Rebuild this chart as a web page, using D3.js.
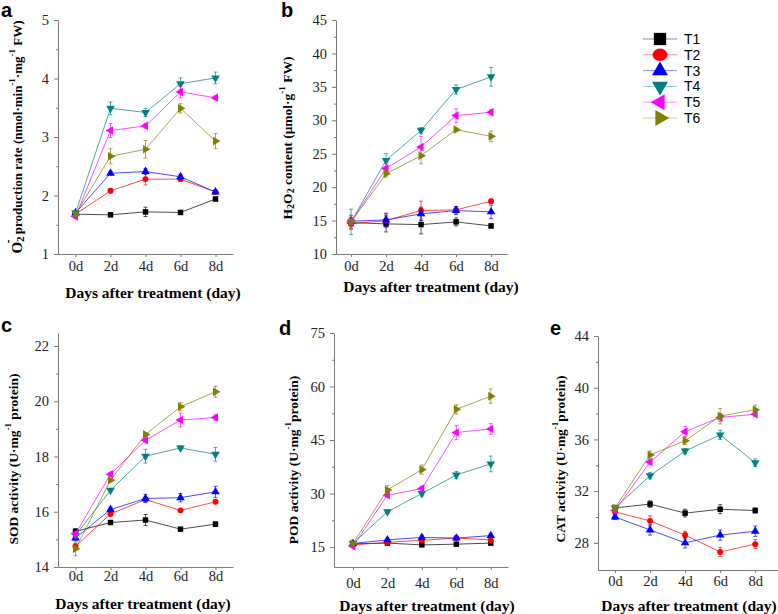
<!DOCTYPE html>
<html><head><meta charset="utf-8">
<script src="https://cdn.jsdelivr.net/npm/d3@7"></script>
<style>
body{margin:0;background:#fff;}
svg{display:block;}
.domain,.tick line{stroke:#7a7a7a;}
</style></head>
<body>
<svg id="chart" width="778" height="614"></svg>
<script>
// ---------- data ----------
const days = [0, 2, 4, 6, 8];
const dayLabels = ["0d", "2d", "4d", "6d", "8d"];
const seriesNames = ["T1", "T2", "T3", "T4", "T5", "T6"];
const seriesColors = ["#000000", "#ff0000", "#0000ff", "#008080", "#ff00ff", "#808000"];

// (a) O2- production rate
const o2Values = [
  [1.68, 1.67, 1.72, 1.71, 1.94],
  [1.68, 2.08, 2.28, 2.28, 2.06],
  [1.70, 2.38, 2.41, 2.32, 2.06],
  [1.70, 3.49, 3.42, 3.91, 4.01],
  [1.64, 3.11, 3.19, 3.77, 3.67],
  [1.68, 2.67, 2.79, 3.49, 2.93]
];
const o2Errors = [
  [0.03, 0.03, 0.08, 0.03, 0.03],
  [0.03, 0.04, 0.10, 0.04, 0.03],
  [0.03, 0.03, 0.05, 0.04, 0.03],
  [0.04, 0.11, 0.07, 0.10, 0.10],
  [0.04, 0.12, 0.04, 0.10, 0.03],
  [0.04, 0.13, 0.15, 0.08, 0.13]
];
const o2Ticks = [1, 2, 3, 4, 5];

// (b) H2O2 content
const h2o2Values = [
  [14.7, 14.5, 14.4, 14.8, 14.2],
  [14.5, 15.0, 16.5, 16.6, 17.9],
  [14.9, 15.1, 16.0, 16.5, 16.3],
  [14.8, 24.0, 28.5, 34.6, 36.5],
  [14.8, 22.8, 26.0, 30.7, 31.2],
  [14.8, 22.0, 24.7, 28.6, 27.6]
];
const h2o2Errors = [
  [0.6, 1.2, 1.4, 0.6, 0.3],
  [0.8, 1.0, 1.4, 0.5, 0.3],
  [0.6, 1.0, 1.0, 0.6, 1.0],
  [1.9, 1.0, 0.4, 0.7, 1.4],
  [1.0, 0.8, 1.6, 1.0, 0.4],
  [1.0, 0.5, 1.2, 0.3, 0.8]
];
const h2o2Ticks = [10, 15, 20, 25, 30, 35, 40, 45];

// (c) SOD activity
const sodValues = [
  [15.29, 15.61, 15.70, 15.37, 15.55],
  [14.75, 15.92, 16.44, 16.05, 16.36],
  [15.05, 16.08, 16.48, 16.51, 16.72],
  [15.15, 16.78, 18.01, 18.31, 18.08],
  [15.20, 17.36, 18.59, 19.32, 19.41],
  [14.66, 17.14, 18.80, 19.80, 20.34]
];
const sodErrors = [
  [0.10, 0.05, 0.20, 0.05, 0.08],
  [0.10, 0.05, 0.08, 0.05, 0.05],
  [0.10, 0.08, 0.15, 0.15, 0.20],
  [0.10, 0.05, 0.25, 0.08, 0.25],
  [0.10, 0.05, 0.05, 0.25, 0.10],
  [0.25, 0.05, 0.05, 0.15, 0.20]
];
const sodTicks = [14, 16, 18, 20, 22];

// (d) POD activity
const podValues = [
  [15.9, 16.1, 15.6, 15.8, 16.1],
  [15.6, 16.3, 16.9, 17.5, 17.0],
  [16.0, 17.0, 17.7, 17.5, 18.2],
  [16.0, 24.9, 30.0, 35.2, 38.3],
  [15.2, 29.5, 31.4, 47.1, 48.1],
  [16.0, 31.0, 36.7, 53.6, 57.3]
];
const podErrors = [
  [0.3, 0.3, 0.3, 0.3, 0.3],
  [0.3, 0.3, 0.5, 0.5, 0.5],
  [0.3, 0.4, 0.6, 0.5, 0.5],
  [0.4, 0.5, 0.7, 1.0, 2.2],
  [0.4, 0.6, 0.7, 2.0, 1.5],
  [0.5, 1.2, 1.3, 1.3, 2.0]
];
const podTicks = [15, 30, 45, 60, 75];

// (e) CAT activity
const catValues = [
  [30.7, 31.0, 30.3, 30.6, 30.5],
  [30.4, 29.7, 28.6, 27.3, 27.9],
  [30.0, 29.0, 28.0, 28.6, 28.9],
  [30.7, 33.2, 35.1, 36.35, 34.2],
  [30.5, 34.25, 36.6, 37.7, 37.95],
  [30.7, 34.8, 35.9, 37.8, 38.3]
];
const catErrors = [
  [0.2, 0.25, 0.3, 0.35, 0.2],
  [0.2, 0.4, 0.3, 0.35, 0.35],
  [0.2, 0.4, 0.4, 0.4, 0.4],
  [0.2, 0.25, 0.2, 0.35, 0.3],
  [0.2, 0.2, 0.4, 0.3, 0.2],
  [0.2, 0.3, 0.3, 0.6, 0.35]
];
const catTicks = [28, 32, 36, 40, 44];

// ---------- drawing ----------
const svg = d3.select("#chart");
const serif = '"Liberation Serif","Times New Roman",serif';
const sans = '"Liberation Sans",Arial,sans-serif';

function symbolFor(i, size) {
  const types = [d3.symbolSquare, d3.symbolCircle, d3.symbolTriangle, d3.symbolTriangle, d3.symbolTriangle, d3.symbolTriangle];
  return d3.symbol().type(types[i]).size(size)();
}
const rotations = [0, 0, 0, 180, -90, 90];

function styleTicks(sel) {
  sel.selectAll("text").attr("font-family", null).attr("font-size", null)
    .style("font-family", serif).style("font-size", "14.5px").style("fill", "#222");
}

function panel(cfg) {
  const g = svg.append("g");
  const x = d3.scaleLinear().domain(cfg.xDom).range([cfg.left, cfg.right]);
  const y = d3.scaleLinear().domain(cfg.yDom).range([cfg.bottom, cfg.top]);

  // minor y ticks
  const minors = [];
  for (let k = 0; k < cfg.ticks.length - 1; k++) minors.push((cfg.ticks[k] + cfg.ticks[k + 1]) / 2);
  g.append("g").attr("transform", `translate(${cfg.left},0)`)
    .call(d3.axisLeft(y).tickValues(minors).tickSize(2).tickSizeOuter(0).tickFormat(""))
    .select(".domain").remove();
  g.append("g").attr("transform", `translate(${cfg.left},0)`)
    .call(d3.axisLeft(y).tickValues(cfg.ticks).tickSize(4).tickSizeOuter(0).tickPadding(5).tickFormat(d3.format("d")))
    .call(styleTicks);
  g.append("g").attr("transform", `translate(0,${cfg.bottom})`)
    .call(d3.axisBottom(x).tickValues(days).tickFormat((d, i) => dayLabels[i]).tickSize(3).tickSizeOuter(0).tickPadding(cfg.xPad))
    .call(styleTicks);

  // series
  const line = d3.line().x((d, i) => x(days[i])).y(d => y(d));
  cfg.values.forEach((vals, s) => {
    const col = seriesColors[s];
    g.append("path").attr("d", line(vals)).attr("fill", "none")
      .attr("stroke", col).attr("stroke-width", 1).attr("stroke-opacity", 0.7);
    vals.forEach((v, i) => {
      const e = cfg.errors[s][i];
      const cx = x(days[i]);
      g.append("line").attr("x1", cx).attr("x2", cx).attr("y1", y(v - e)).attr("y2", y(v + e))
        .attr("stroke", col).attr("stroke-width", 1).attr("stroke-opacity", 0.65);
      [v - e, v + e].forEach(w => g.append("line").attr("x1", cx - 2).attr("x2", cx + 2)
        .attr("y1", y(w)).attr("y2", y(w)).attr("stroke", col).attr("stroke-width", 1).attr("stroke-opacity", 0.65));
      g.append("path").attr("d", symbolFor(s, s === 0 ? 30 : (s === 1 ? 28 : 32)))
        .attr("transform", `translate(${cx},${y(v)}) rotate(${rotations[s]})`)
        .attr("fill", col);
    });
  });

  // x title
  g.append("text").attr("x", cfg.xtX).attr("y", cfg.xtY).attr("text-anchor", "middle")
    .attr("dominant-baseline", "central")
    .style("font-family", serif).style("font-weight", "bold").style("font-size", "15.5px")
    .text("Days after treatment (day)");

  // y title
  const yt = g.append("text").attr("transform", `translate(${cfg.ytX},${cfg.ytY}) rotate(-90)`)
    .attr("text-anchor", "middle").attr("dominant-baseline", "central")
    .style("font-family", serif).style("font-weight", "bold").style("font-size", cfg.ytSize || "13.5px");
  cfg.ytitle(yt);

  // panel letter
  g.append("text").attr("x", cfg.letterX).attr("y", cfg.letterY)
    .style("font-family", sans).style("font-weight", "bold").style("font-size", "20px").text(cfg.letter);
}

function sup(t, s, after) {
  t.append("tspan").text(s).attr("dy", -5).style("font-size", "9px");
  t.append("tspan").text(after).attr("dy", 5);
}

panel({
  letter: "a", letterX: 1, letterY: 17,
  left: 58, right: 233, top: 20, bottom: 254, xDom: [-1, 9], yDom: [1, 5], ticks: o2Ticks,
  values: o2Values, errors: o2Errors, xPad: 4, xtX: 153, xtY: 292, ytX: 17, ytY: 137, ytSize: "13px",
  ytitle: t => {
    t.append("tspan").text("O").style("font-size", "15px");
    t.append("tspan").text("2").attr("dy", 3).style("font-size", "11px");
    t.append("tspan").text("-").attr("dx", -7).attr("dy", -12).style("font-size", "12px");
    t.append("tspan").text(" production rate (nmol·min").attr("dx", 2).attr("dy", 9);
    sup(t, "-1", "·mg");
    sup(t, "-1", " FW)");
  }
});

panel({
  letter: "b", letterX: 281, letterY: 17,
  left: 336, right: 507, top: 20, bottom: 254, xDom: [-0.86, 8.91], yDom: [10, 45], ticks: h2o2Ticks,
  values: h2o2Values, errors: h2o2Errors, xPad: 4, xtX: 431, xtY: 286, ytX: 287, ytY: 138,
  ytitle: t => {
    t.append("tspan").text("H");
    t.append("tspan").text("2").attr("dy", 3).style("font-size", "10px");
    t.append("tspan").text("O").attr("dy", -3);
    t.append("tspan").text("2").attr("dy", 3).style("font-size", "10px");
    t.append("tspan").text(" content (μmol·g").attr("dy", -3);
    sup(t, "-1", " FW)");
  }
});

panel({
  letter: "c", letterX: 1, letterY: 332,
  left: 58, right: 233, top: 333, bottom: 567, xDom: [-1, 9], yDom: [14, 22.47], ticks: sodTicks,
  values: sodValues, errors: sodErrors, xPad: 1, xtX: 143, xtY: 603, ytX: 13, ytY: 459,
  ytitle: t => { t.append("tspan").text("SOD activity (U·mg"); sup(t, "-1", " protein)"); }
});

panel({
  letter: "d", letterX: 279, letterY: 335,
  left: 334, right: 508, top: 333, bottom: 567, xDom: [-1.1, 9.0], yDom: [9.4, 75], ticks: podTicks,
  values: podValues, errors: podErrors, xPad: 8, xtX: 427, xtY: 605, ytX: 293, ytY: 460,
  ytitle: t => { t.append("tspan").text("POD activity (U·mg"); sup(t, "-1", "protein)"); }
});

panel({
  letter: "e", letterX: 550, letterY: 335,
  left: 598, right: 778, top: 336, bottom: 570, xDom: [-0.97, 9.3], yDom: [25.9, 44], ticks: catTicks,
  values: catValues, errors: catErrors, xPad: 3, xtX: 689, xtY: 605, ytX: 560, ytY: 459,
  ytitle: t => { t.append("tspan").text("CAT activity (U·mg"); sup(t, "-1", "protein)"); }
});

// ---------- legend ----------
const legend = svg.append("g");
seriesNames.forEach((name, i) => {
  const cy = 39 + i * 15.8;
  legend.append("line").attr("x1", 643).attr("x2", 677).attr("y1", cy).attr("y2", cy)
    .attr("stroke", seriesColors[i]).attr("stroke-opacity", 0.45).attr("stroke-width", 1);
  legend.append("path").attr("d", symbolFor(i, i === 0 ? 150 : (i === 1 ? 120 : 110)))
    .attr("transform", `translate(660,${cy}) rotate(${rotations[i]})` + (i === 1 ? " scale(1.2,1)" : ""))
    .attr("fill", seriesColors[i]);
  legend.append("text").attr("x", 684).attr("y", cy).attr("dominant-baseline", "central")
    .style("font-family", sans).style("font-size", "14px").text(name);
});
</script>
</body></html>
